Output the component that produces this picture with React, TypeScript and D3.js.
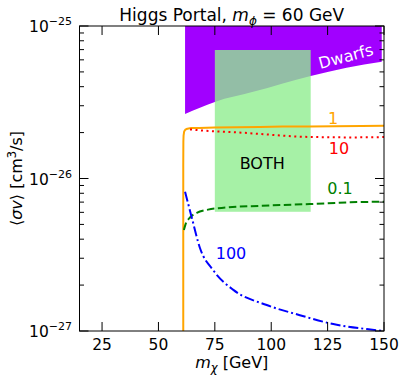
import React from 'react';
import * as d3 from 'd3';

const W = 407;
const H = 381;
const margin = { top: 26, right: 23, bottom: 50, left: 79.5 };

// x = m_chi [GeV], y = <sigma v> [cm^3/s]
const xTicks = [25, 50, 75, 100, 125, 150];
const yMajor = [1e-27, 1e-26, 1e-25];
const yTickExp = ['−27', '−26', '−25'];

const dwarfsEdge: [number, number][] = [
  [61.8, 2.65e-26], [75, 3.18e-26], [92, 3.7e-26], [117.5, 4.7e-26], [133.4, 5.33e-26], [149, 5.83e-26],
];
const bothX = [75, 117.5];
const bothY = [6.05e-27, 6.96e-26];

const line1: [number, number][] = [
  [61.0, 8e-28], [61.0, 5e-27], [61.0, 1.2e-26], [61.05, 1.75e-26], [61.15, 1.92e-26], [61.4, 2.03e-26],
  [61.9, 2.09e-26], [62.8, 2.12e-26], [64.5, 2.14e-26], [68, 2.14e-26], [75, 2.16e-26], [85, 2.17e-26],
  [95, 2.18e-26], [105, 2.19e-26], [117, 2.19e-26], [128, 2.2e-26], [140, 2.21e-26], [150, 2.22e-26],
];
const line10: [number, number][] = [
  [64, 2.1e-26], [70, 2.06e-26], [78, 2.03e-26], [84, 2.01e-26], [95, 1.96e-26], [105, 1.91e-26],
  [113, 1.88e-26], [120, 1.87e-26], [135, 1.86e-26], [150, 1.87e-26],
];
const line01: [number, number][] = [
  [61.3, 4.6e-27], [62, 5.0e-27], [64, 5.55e-27], [67, 5.95e-27], [72, 6.25e-27], [80, 6.45e-27],
  [95, 6.62e-27], [117, 6.8e-27], [135, 6.98e-27], [150, 7.05e-27],
];
const line100: [number, number][] = [
  [61.8, 8.2e-27], [64.7, 5.6e-27], [68.4, 3.5e-27], [74.3, 2.5e-27], [83.2, 1.86e-27], [98, 1.48e-27],
  [112.7, 1.27e-27], [127.5, 1.11e-27], [142.3, 1.03e-27], [150, 1.0e-27],
];

const font = "'DejaVu Sans', sans-serif";
const fs = 15.5;
const fsSmall = 11;

export default function App() {
  const x = d3.scaleLinear().domain([15, 150]).range([margin.left, W - margin.right]);
  const y = d3.scaleLog().domain([1e-27, 1e-25]).range([H - margin.bottom, margin.top]);
  const x0 = x.range()[0], x1 = x.range()[1];
  const yb = y.range()[0], yt = y.range()[1];

  const lineLin = d3.line<[number, number]>().x(d => x(d[0])).y(d => y(d[1]));
  const lineSmooth = d3.line<[number, number]>().x(d => x(d[0])).y(d => y(d[1])).curve(d3.curveMonotoneX);

  const dwarfArea = d3.area<[number, number]>()
    .x(d => x(d[0])).y0(() => yt).y1(d => y(d[1])).curve(d3.curveMonotoneX);

  const minor: number[] = [];
  [1e-27, 1e-26].forEach(dec => { for (let k = 2; k <= 9; k++) minor.push(dec * k); });

  return (
    <svg width={W} height={H} style={{ position: 'absolute', left: 0, top: 0, fontFamily: font }}>
      <defs>
        <clipPath id="plot"><rect x={x0} y={yt} width={x1 - x0} height={yb - yt} /></clipPath>
      </defs>
      <rect width={W} height={H} fill="#fff" />
      <g clipPath="url(#plot)">
        <path d={dwarfArea(dwarfsEdge) || ''} fill="#a100ff" />
        <rect x={x(bothX[0])} y={y(bothY[1])} width={x(bothX[1]) - x(bothX[0])} height={y(bothY[0]) - y(bothY[1])}
          fill="#90ee90" fillOpacity={0.8} />
        <path d={lineLin(line1) || ''} fill="none" stroke="#ffa500" strokeWidth={2} strokeLinejoin="round" />
        <path d={lineSmooth(line10) || ''} fill="none" stroke="#ff0000" strokeWidth={2} strokeDasharray="2 3.5" />
        <path d={lineSmooth(line01) || ''} fill="none" stroke="#008000" strokeWidth={2} strokeDasharray="7.5 3.5" />
        <path d={lineSmooth(line100) || ''} fill="none" stroke="#0000ff" strokeWidth={2} strokeDasharray="10 3 2 3" />
      </g>

      <text x={346} y={62} fill="#fff" fontSize={16} textAnchor="middle" transform="rotate(-15 346 57)">Dwarfs</text>
      <text x={x(96)} y={169} fontSize={16} textAnchor="middle">BOTH</text>
      <text x={333} y={124} fill="#ffa500" fontSize={16} textAnchor="middle">1</text>
      <text x={339} y={154} fill="#ff0000" fontSize={16} textAnchor="middle">10</text>
      <text x={340} y={194} fill="#008000" fontSize={16} textAnchor="middle">0.1</text>
      <text x={231} y={259} fill="#0000ff" fontSize={16} textAnchor="middle">100</text>

      {/* frame */}
      <rect x={x0} y={yt} width={x1 - x0} height={yb - yt} fill="none" stroke="#000" strokeWidth={1} />

      {/* x ticks */}
      {xTicks.map(t => (
        <g key={'x' + t}>
          <line x1={x(t)} x2={x(t)} y1={yb} y2={yb - 9} stroke="#000" />
          <line x1={x(t)} x2={x(t)} y1={yt} y2={yt + 9} stroke="#000" />
          <text x={x(t)} y={350} fontSize={fs} textAnchor="middle">{t}</text>
        </g>
      ))}

      {/* y ticks */}
      {yMajor.map((t, i) => (
        <g key={'y' + i}>
          <line x1={x0} x2={x0 + 9} y1={y(t)} y2={y(t)} stroke="#000" />
          <line x1={x1} x2={x1 - 9} y1={y(t)} y2={y(t)} stroke="#000" />
          <text x={72} y={y(t) + 6} fontSize={fs} textAnchor="end">
            10<tspan dy={-7} fontSize={fsSmall}>{yTickExp[i]}</tspan>
          </text>
        </g>
      ))}
      {minor.map((t, i) => (
        <g key={'m' + i}>
          <line x1={x0} x2={x0 + 4.5} y1={y(t)} y2={y(t)} stroke="#000" />
          <line x1={x1} x2={x1 - 4.5} y1={y(t)} y2={y(t)} stroke="#000" />
        </g>
      ))}

      {/* labels */}
      <text x={(x0 + x1) / 2} y={20.5} fontSize={17} textAnchor="middle">
        Higgs Portal, <tspan fontStyle="italic">m</tspan><tspan dy={4} fontSize={12} fontStyle="italic">ϕ</tspan>
        <tspan dy={-4}> = 60 GeV</tspan>
      </text>
      <text x={(x0 + x1) / 2} y={368} fontSize={16} textAnchor="middle">
        <tspan fontStyle="italic">m</tspan><tspan dy={4} fontSize={11.5} fontStyle="italic">χ</tspan>
        <tspan dy={-4}> [GeV]</tspan>
      </text>
      <text transform={`translate(22, ${(yt + yb) / 2}) rotate(-90)`} fontSize={16} textAnchor="middle">
        ⟨<tspan fontStyle="italic">σv</tspan>⟩ [cm<tspan dy={-6} fontSize={11.5}>3</tspan><tspan dy={6}>/s]</tspan>
      </text>
    </svg>
  );
}
